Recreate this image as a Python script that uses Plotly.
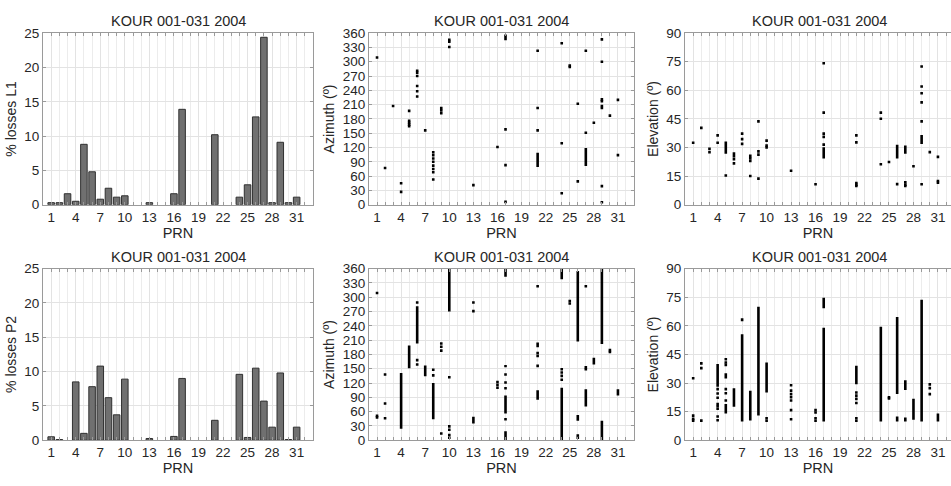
import plotly.graph_objects as go

PRN = list(range(1, 32))
LOSS_L1 = [0.3, 0.3, 1.6, 0.5, 8.8, 4.8, 0.8, 2.4, 1.1, 1.3, 0, 0, 0.3, 0, 0, 1.6, 13.9,
           0, 0, 0, 10.2, 0, 0, 1.1, 2.9, 12.8, 24.4, 0.3, 9.1, 0.3, 1.1]
LOSS_P2 = [0.5, 0.1, 0, 8.5, 1.0, 7.8, 10.8, 6.2, 3.7, 8.9, 0, 0, 0.25, 0, 0, 0.55, 9.0,
           0, 0, 0, 2.9, 0, 0, 9.6, 0.4, 10.5, 5.7, 1.9, 9.8, 0.1, 1.9]

TITLE = "KOUR 001-031 2004"
XTICKS = [1, 4, 7, 10, 13, 16, 19, 22, 25, 28, 31]

# Azimuth of L1 losses: isolated points (prn, deg) and streaks (prn, low, high)
AZ_L1_PTS = [(1, 309), (2, 77), (3, 207), (4, 45), (4, 27), (5, 197), (5, 176), (5, 172), (5, 168), (5, 165),
             (6, 281), (6, 277), (6, 270), (6, 249), (6, 238), (6, 227), (7, 156),
             (8, 110), (8, 104), (8, 97), (8, 90), (8, 82), (8, 75), (8, 68), (8, 53),
             (9, 203), (9, 198), (9, 192), (10, 346), (10, 342), (10, 331), (13, 41), (16, 121),
             (17, 158), (17, 83), (17, 6), (21, 323), (21, 203), (21, 156),
             (24, 339), (24, 129), (24, 24), (25, 292), (25, 289), (26, 212), (26, 49),
             (27, 323), (27, 151), (28, 172), (29, 347), (29, 300), (29, 221), (29, 217),
             (29, 207), (29, 203), (29, 39), (29, 5), (30, 187), (31, 220), (31, 104)]
AZ_L1_SEG = [(17, 345, 357), (21, 79, 109), (27, 81, 119)]

# Elevation of L1 losses
EL_L1_PTS = [(1, 32.5), (2, 40.3), (3, 29.3), (3, 27.5), (4, 36.4), (4, 32.5), (5, 15.3),
             (6, 26.8), (6, 25.4), (6, 23.9), (6, 21.7), (7, 37.3), (7, 34.4), (7, 31.9),
             (8, 25.6), (8, 24.3), (8, 22.9), (8, 15.1), (9, 43.7), (9, 28), (9, 26.3), (9, 13.7),
             (10, 33.6), (10, 31), (10, 30), (13, 17.8), (16, 10.7),
             (17, 74.2), (17, 48.3), (17, 37.3), (17, 35.6), (17, 31.5),
             (21, 36.4), (21, 32.7), (21, 11.4), (21, 10.5), (21, 9.8),
             (24, 48.3), (24, 45.1), (24, 21.2), (25, 22.4), (26, 10.8), (27, 11.7), (27, 10.5), (27, 9.8),
             (28, 20.2), (29, 72.5), (29, 62), (29, 58.5), (29, 53.7), (29, 43.7), (29, 10.7),
             (30, 27.6), (31, 25.1), (31, 12.4), (31, 11.5)]
EL_L1_SEG = [(5, 26.8, 33.2), (17, 24.2, 30.2), (26, 24.2, 31.4), (27, 26.8, 31), (29, 31.9, 36.6)]

# Azimuth of P2 losses
AZ_P2_PTS = [(1, 309), (1, 51), (1, 48), (2, 138), (2, 77), (2, 46), (6, 289), (6, 168), (6, 159),
             (8, 148), (8, 136), (9, 203), (9, 196), (9, 188), (9, 14), (10, 132),
             (10, 29), (10, 22), (10, 11), (10, 5), (13, 289), (13, 271),
             (16, 122), (16, 116), (16, 110), (17, 138), (17, 121), (17, 109), (17, 44),
             (21, 323), (21, 183), (21, 177), (21, 156), (24, 149), (24, 142), (24, 135), (24, 127),
             (25, 292), (25, 287), (26, 10), (26, 5), (27, 323), (27, 153), (27, 149),
             (30, 189), (30, 185)]
AZ_P2_SEG = [(4, 24, 141), (5, 151, 199), (6, 203, 281), (7, 134, 157), (8, 44, 120),
             (10, 270, 360), (13, 35, 49), (17, 343, 360), (17, 153, 158), (17, 56, 94), (17, 0, 19),
             (21, 195, 205), (21, 85, 105), (24, 338, 360), (24, 0, 110), (26, 207, 355),
             (26, 41, 53), (27, 71, 107), (28, 159, 173), (29, 202, 360), (29, 0, 41), (31, 94, 107)]

# Elevation of P2 losses
EL_P2_PTS = [(1, 32.5), (1, 12.9), (1, 11.2), (1, 10.3), (2, 40.3), (2, 37.8), (2, 10.3),
             (4, 26.8), (4, 24.5), (4, 22.3), (4, 19), (4, 17.8), (4, 16.5), (4, 12.4), (4, 10.5),
             (5, 42.5), (5, 40.8), (5, 39.5), (5, 34.4), (5, 33), (5, 26.8), (5, 24.6), (5, 20.8),
             (10, 11.5), (10, 10.2), (13, 28.8), (13, 26), (13, 24.2), (13, 22.5), (13, 20.8),
             (13, 15.8), (13, 11), (16, 15.8), (16, 14.5), (16, 11.5), (16, 10.2),
             (21, 25), (21, 23.4), (21, 21.7), (21, 19.5), (21, 11.5), (21, 10.2),
             (25, 22.5), (25, 21.9), (30, 29.3), (30, 27.3), (30, 24.2)]
EL_P2_SEG = [(4, 28, 40), (5, 14, 19), (6, 17.5, 27.3), (7, 62.4, 64), (7, 9.8, 55.6),
             (8, 10.3, 26), (9, 13, 70), (10, 25, 40.8), (17, 69.2, 74.7), (17, 9.8, 59),
             (21, 29.3, 39), (24, 9.8, 59.5), (26, 24.2, 64.6), (26, 9.8, 12.4),
             (27, 26.3, 31.4), (27, 9.8, 11.9), (28, 10.7, 21.7), (29, 9.8, 73.7), (31, 9.8, 14)]

FONT = "Liberation Sans, Arial, sans-serif"
TXT = "#262626"
GRID = "#e3e3e3"
FRAME = "#9a9a9a"

fig = go.Figure()

# panel geometry: (x domain, y domain)
XD = [[43 / 951, 313 / 951], [369 / 951, 634 / 951], [685 / 951, 1.0]]
YD = [[1 - 204 / 486, 1 - 27 / 486], [1 - 447 / 486, 1 - 270 / 486]]

panels = [
    ("bar", LOSS_L1, "% losses L1", 0, 0),
    ("sc", (AZ_L1_PTS, AZ_L1_SEG), "Azimuth (º)", 0, 1),
    ("sc", (EL_L1_PTS, EL_L1_SEG), "Elevation (º)", 0, 2),
    ("bar", LOSS_P2, "% losses P2", 1, 0),
    ("sc", (AZ_P2_PTS, AZ_P2_SEG), "Azimuth (º)", 1, 1),
    ("sc", (EL_P2_PTS, EL_P2_SEG), "Elevation (º)", 1, 2),
]

annotations = []
for i, (kind, data, ylabel, r, c) in enumerate(panels):
    n = i + 1
    xa = "x" if n == 1 else f"x{n}"
    ya = "y" if n == 1 else f"y{n}"
    if kind == "bar":
        bx = [p for p, v in zip(PRN, data) if v > 0]
        by = [v for v in data if v > 0]
        fig.add_trace(go.Bar(x=bx, y=by, xaxis=xa, yaxis=ya, width=0.8,
                             marker=dict(color="#707070", line=dict(color="#303030", width=1)),
                             showlegend=False))
        yr, ydt = [0, 25], 5
    else:
        pts, segs = data
        fig.add_trace(go.Scatter(x=[p[0] for p in pts], y=[p[1] for p in pts], mode="markers",
                                 marker=dict(symbol="square", size=2.6, color="black"),
                                 xaxis=xa, yaxis=ya, showlegend=False))
        sx, sy = [], []
        for prn, lo, hi in segs:
            sx += [prn, prn, None]
            sy += [lo, hi, None]
        fig.add_trace(go.Scatter(x=sx, y=sy, mode="lines", line=dict(color="black", width=2.6),
                                 xaxis=xa, yaxis=ya, showlegend=False))
        if "Azimuth" in ylabel:
            yr, ydt = [0, 360], 30
        else:
            yr, ydt = [0, 90], 15
    xr = [0, 32.6] if c == 2 else [0, 33]
    xkey = "xaxis" if n == 1 else f"xaxis{n}"
    ykey = "yaxis" if n == 1 else f"yaxis{n}"
    fig.update_layout(**{
        xkey: dict(domain=XD[c], anchor=ya, range=xr, tickmode="array", tickvals=XTICKS,
                   ticks="inside", ticklen=3, tickcolor=FRAME, showline=True, linecolor=FRAME,
                   linewidth=1, mirror="ticks", showgrid=True, gridcolor=GRID, zeroline=False,
                   minor=dict(dtick=1, tick0=0, ticks="inside", ticklen=3, tickcolor=FRAME,
                              showgrid=True, gridcolor="#ececec"),
                   title=dict(text="PRN", standoff=2, font=dict(size=14.5, color=TXT, family=FONT)),
                   tickfont=dict(size=13.5, color=TXT, family=FONT)),
        ykey: dict(domain=YD[r], anchor=xa, range=yr, dtick=ydt, tick0=0,
                   ticks="inside", ticklen=3, tickcolor=FRAME, showline=True, linecolor=FRAME,
                   linewidth=1, mirror=("ticks" if c != 2 else False), showgrid=True,
                   gridcolor=GRID, zeroline=False,
                   title=dict(text=ylabel, standoff=4, font=dict(size=14, color=TXT, family=FONT)),
                   tickfont=dict(size=13.5, color=TXT, family=FONT)),
    })
    xmid = (XD[c][0] + min(XD[c][0] + (XD[c][1] - XD[c][0]) * 33 / xr[1], 2)) / 2
    annotations.append(dict(text=TITLE, xref="paper", yref="paper", x=xmid, y=YD[r][1],
                            xanchor="center", yanchor="bottom", yshift=2, showarrow=False,
                            font=dict(size=14.5, color=TXT, family=FONT)))

fig.update_layout(width=951, height=486, margin=dict(l=0, r=0, t=0, b=0),
                  paper_bgcolor="white", plot_bgcolor="white", bargap=0.2,
                  annotations=annotations, font=dict(family=FONT, color=TXT))

fig.write_html("out.html", config={"displayModeBar": False},
               post_script="document.body.style.margin='0';document.body.style.overflow='hidden';")
